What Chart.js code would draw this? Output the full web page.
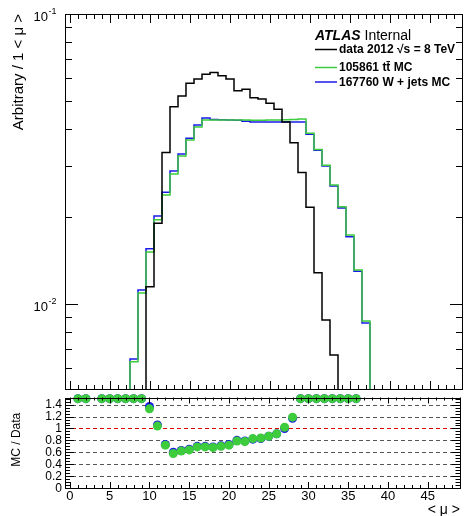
<!DOCTYPE html>
<html>
<head>
<meta charset="utf-8">
<script src="https://cdn.jsdelivr.net/npm/chart.js@4.4.1/dist/chart.umd.min.js"></script>
<style>
  html, body { margin: 0; padding: 0; background: #fff; }
  #wrap { position: relative; width: 465px; height: 516px; }
  canvas { position: absolute; left: 0; }
</style>
</head>
<body>
<div id="wrap">
  <canvas id="main" width="465" height="393" style="top:0;width:465px;height:393px"></canvas>
  <canvas id="ratio" width="465" height="123" style="top:393px;width:465px;height:123px"></canvas>
</div>
<script>
const FONT = '"Liberation Sans", Arial, Helvetica, sans-serif';

// <mu> bins (width 1, centred on the integers)
const muBins = [8, 9, 10, 11, 12, 13, 14, 15, 16, 17, 18, 19, 20, 21, 22,
                23, 24, 25, 26, 27, 28, 29, 30, 31, 32, 33, 34, 35, 36, 37];

const data2012 = [0, 0, 0.01146, 0.0190, 0.0333, 0.0479, 0.0521, 0.0577, 0.0597, 0.0620,
                  0.0629, 0.0613, 0.0597, 0.0544, 0.0550, 0.0514, 0.0509, 0.0492, 0.0469, 0.0424,
                  0.0360, 0.0284, 0.02156, 0.01282, 0.00881, 0.00667, 0, 0, 0, 0];

const ttbarMC = [0.00632, 0.0109, 0.0151, 0.0195, 0.02377, 0.02806, 0.0324, 0.0368, 0.0408, 0.0431,
                 0.0431, 0.0431, 0.0431, 0.0431, 0.0431, 0.0430, 0.0430, 0.0431, 0.0431, 0.0432,
                 0.0433, 0.0434, 0.0388, 0.0341, 0.0301, 0.0257, 0.02166, 0.0173, 0.0131, 0.00874];

const wjetsMC = [0.00646, 0.01117, 0.01549, 0.0201, 0.0243, 0.02876, 0.0329, 0.0373, 0.0414, 0.0438,
                 0.0433, 0.0432, 0.0431, 0.0430, 0.0427, 0.0424, 0.0424, 0.0424, 0.0424, 0.0424,
                 0.0424, 0.0424, 0.0385, 0.0339, 0.0299, 0.0255, 0.02143, 0.01706, 0.01297, 0.0086];

// ratio panel (values above the range are shown pinned at the top edge)
const ratioBins = [1, 2, 4, 5, 6, 7, 8, 9, 10, 11, 12, 13, 14, 15, 16, 17, 18, 19, 20,
                   21, 22, 23, 24, 25, 26, 27, 28, 29, 30, 31, 32, 33, 34, 35, 36];
const ratioTtbar = [1.5, 1.5, 1.5, 1.5, 1.5, 1.5, 1.5, 1.5, 1.33, 1.04, 0.72, 0.58, 0.62, 0.64, 0.69,
                    0.69, 0.68, 0.70, 0.72, 0.79, 0.78, 0.83, 0.84, 0.87, 0.91, 1.02, 1.19,
                    1.5, 1.5, 1.5, 1.5, 1.5, 1.5, 1.5, 1.5];
const ratioWjets = [1.5, 1.5, 1.5, 1.5, 1.5, 1.5, 1.5, 1.5, 1.37, 1.06, 0.73, 0.60, 0.63, 0.65, 0.70,
                    0.70, 0.69, 0.71, 0.73, 0.80, 0.79, 0.82, 0.83, 0.87, 0.91, 1.00, 1.17,
                    1.5, 1.5, 1.5, 1.5, 1.5, 1.5, 1.5, 1.5];

const xTickLabels = ['0', '5', '10', '15', '20', '25', '30', '35', '40', '45'];
const ratioTickLabels = ['0', '0.2', '0.4', '0.6', '0.8', '1', '1.2', '1.4'];

const X_MIN = -0.625, X_MAX = 49.125;
const FLOOR = 1e-4; // below the log axis, clipped away

// histogram outline as stepped points on bin edges
function histPoints(bins, vals) {
  const nz = vals.map((v, i) => v > 0 ? i : -1).filter(i => i >= 0);
  const first = nz[0], last = nz[nz.length - 1];
  const pts = [{ x: bins[first] - 0.5, y: FLOOR }];
  for (let i = first; i <= last; i++) pts.push({ x: bins[i] - 0.5, y: vals[i] > 0 ? vals[i] : FLOOR });
  pts.push({ x: bins[last] + 0.5, y: vals[last] });
  pts.push({ x: bins[last] + 0.5, y: FLOOR });
  return pts;
}

function line(ctx, x1, y1, x2, y2) { ctx.moveTo(x1, y1); ctx.lineTo(x2, y2); }

function drawXTicks(ctx, chart, major, minor) {
  const xs = chart.scales.x, a = chart.chartArea;
  ctx.beginPath();
  for (let v = 0; v <= 49; v++) {
    const px = Math.round(xs.getPixelForValue(v)) + 0.5;
    if (px < a.left || px > a.right) continue;
    const len = v % 5 === 0 ? major : minor;
    line(ctx, px, a.bottom, px, a.bottom - len);
    line(ctx, px, a.top, px, a.top + len);
  }
  ctx.stroke();
}

function drawFrame(ctx, a) {
  ctx.strokeRect(Math.round(a.left) + 0.5, Math.round(a.top) + 0.5,
                 Math.round(a.right - a.left) - 1, Math.round(a.bottom - a.top) - 1);
}

const mainDecor = {
  id: 'mainDecor',
  afterDraw(chart) {
    const ctx = chart.ctx, a = chart.chartArea, ys = chart.scales.y;
    ctx.save();
    ctx.strokeStyle = '#000';
    ctx.lineWidth = 1;
    drawFrame(ctx, a);
    drawXTicks(ctx, chart, 9, 5);
    // log y ticks
    ctx.beginPath();
    for (const dec of [0.001, 0.01]) {
      for (let m = 1; m <= 9; m++) {
        const v = dec * m;
        if (v < ys.min || v > ys.max) continue;
        const py = Math.round(ys.getPixelForValue(v)) + 0.5;
        const len = m === 1 ? 13 : 7;
        line(ctx, a.left, py, a.left + len, py);
        line(ctx, a.right, py, a.right - len, py);
      }
    }
    const pTop = Math.round(ys.getPixelForValue(0.1)) + 0.5;
    line(ctx, a.left, pTop, a.left + 13, pTop);
    line(ctx, a.right, pTop, a.right - 13, pTop);
    ctx.stroke();

    // y labels 10^-1, 10^-2
    ctx.fillStyle = '#000';
    for (const [v, e] of [[0.1, '-1'], [0.01, '-2']]) {
      const py = ys.getPixelForValue(v);
      ctx.font = '13px ' + FONT;
      ctx.textAlign = 'right';
      ctx.textBaseline = 'middle';
      ctx.fillText('10', 48, py + 3);
      ctx.font = '9px ' + FONT;
      ctx.textAlign = 'left';
      ctx.fillText(e, 48.5, py - 2);
    }

    // y title
    ctx.save();
    ctx.translate(19, 14);
    ctx.rotate(-Math.PI / 2);
    ctx.font = '15px ' + FONT;
    ctx.textAlign = 'right';
    ctx.textBaseline = 'middle';
    ctx.fillText('Arbitrary / 1 < \u03bc >', 0, 0);
    ctx.restore();

    // ATLAS label + legend
    ctx.textAlign = 'left';
    ctx.textBaseline = 'alphabetic';
    ctx.font = 'italic bold 14px ' + FONT;
    ctx.fillText('ATLAS', 315, 40);
    const w = ctx.measureText('ATLAS').width;
    ctx.font = '14px ' + FONT;
    ctx.fillText(' Internal', 315 + w, 40);

    const entries = [
      ['data 2012 \u221as = 8 TeV', '#000', 49.5],
      ['105861 tt\u0304 MC', '#3ccc3c', 67.5],
      ['167760 W + jets MC', '#1a1ae6', 82]
    ];
    ctx.font = 'bold 12px ' + FONT;
    ctx.textBaseline = 'middle';
    for (const [txt, col, y] of entries) {
      ctx.beginPath();
      ctx.strokeStyle = col;
      ctx.lineWidth = 1.5;
      line(ctx, 315, y, 337, y);
      ctx.stroke();
      ctx.fillStyle = '#000';
      ctx.fillText(txt, 339, y + 0.5);
    }
    ctx.restore();
  }
};

const ratioDecor = {
  id: 'ratioDecor',
  beforeDatasetsDraw(chart) {
    const ctx = chart.ctx, a = chart.chartArea, ys = chart.scales.y;
    ctx.save();
    ctx.lineWidth = 1;
    ctx.setLineDash([4, 3]);
    for (let v = 0.2; v < 1.45; v += 0.2) {
      const py = Math.round(ys.getPixelForValue(v)) + 0.5;
      const one = Math.abs(v - 1) < 1e-6;
      ctx.strokeStyle = one ? '#e00000' : '#555';
      ctx.beginPath();
      line(ctx, a.left, py, a.right, py);
      ctx.stroke();
    }
    ctx.restore();
  },
  afterDraw(chart) {
    const ctx = chart.ctx, a = chart.chartArea, ys = chart.scales.y, xs = chart.scales.x;
    ctx.save();
    ctx.strokeStyle = '#000';
    ctx.lineWidth = 1;
    drawFrame(ctx, a);
    drawXTicks(ctx, chart, 6, 3);
    ctx.beginPath();
    for (let k = 0; k <= 30; k++) {
      const v = k * 0.05;
      const py = Math.round(ys.getPixelForValue(v)) + 0.5;
      const len = k % 4 === 0 ? 9 : 5;
      line(ctx, a.left, py, a.left + len, py);
      line(ctx, a.right, py, a.right - len, py);
    }
    ctx.stroke();

    ctx.fillStyle = '#000';
    ctx.font = '12px ' + FONT;
    ctx.textAlign = 'right';
    ctx.textBaseline = 'middle';
    ratioTickLabels.forEach((t, i) => {
      ctx.fillText(t, 62, ys.getPixelForValue(i * 0.2) + 0.5);
    });
    ctx.textAlign = 'center';
    ctx.textBaseline = 'top';
    ctx.font = '13px ' + FONT;
    xTickLabels.forEach(t => {
      ctx.fillText(t, xs.getPixelForValue(Number(t)), a.bottom + 2);
    });
    ctx.textAlign = 'right';
    ctx.textBaseline = 'alphabetic';
    ctx.font = '14px ' + FONT;
    ctx.fillText('< \u03bc >', 460, 121);

    ctx.save();
    ctx.translate(17, (a.top + a.bottom) / 2 - 3);
    ctx.rotate(-Math.PI / 2);
    ctx.textAlign = 'center';
    ctx.textBaseline = 'middle';
    ctx.font = '12px ' + FONT;
    ctx.fillText('MC / Data', 0, 0);
    ctx.restore();
    ctx.restore();
  }
};

const xScale = { type: 'linear', min: X_MIN, max: X_MAX, display: false };

new Chart(document.getElementById('main'), {
  type: 'line',
  data: {
    datasets: [
      { label: 'data 2012', data: histPoints(muBins, data2012), borderColor: '#000',
        borderWidth: 1.5, stepped: 'before', pointRadius: 0, fill: false },
      { label: '105861 ttbar MC', data: histPoints(muBins, ttbarMC), borderColor: '#3ccc3c',
        borderWidth: 1.5, stepped: 'before', pointRadius: 0, fill: false },
      { label: '167760 W + jets MC', data: histPoints(muBins, wjetsMC), borderColor: '#1a1ae6',
        borderWidth: 1.5, stepped: 'before', pointRadius: 0, fill: false }
    ]
  },
  options: {
    responsive: false,
    animation: false,
    events: [],
    layout: { padding: { left: 65, right: 2, top: 14, bottom: 3 } },
    plugins: { legend: { display: false }, tooltip: { enabled: false } },
    scales: {
      x: xScale,
      y: { type: 'logarithmic', min: 0.00505, max: 0.1, display: false }
    }
  },
  plugins: [mainDecor]
});

new Chart(document.getElementById('ratio'), {
  type: 'scatter',
  data: {
    datasets: [
      { label: 'ttbar / data', data: ratioBins.map((x, i) => ({ x, y: ratioTtbar[i] })),
        pointRadius: 4.5, pointBackgroundColor: '#3ccc3c', pointBorderWidth: 0, clip: 8 },
      { label: 'W+jets / data', data: ratioBins.map((x, i) => ({ x, y: ratioWjets[i] })),
        pointRadius: 4.5, pointBackgroundColor: '#1a1ae6', pointBorderWidth: 0, clip: 8 }
    ]
  },
  options: {
    responsive: false,
    animation: false,
    events: [],
    layout: { padding: { left: 65, right: 2, top: 3, bottom: 28 } },
    plugins: { legend: { display: false }, tooltip: { enabled: false } },
    scales: {
      x: { ...xScale },
      y: { type: 'linear', min: 0, max: 1.52, display: false }
    }
  },
  plugins: [ratioDecor]
});
</script>
</body>
</html>
